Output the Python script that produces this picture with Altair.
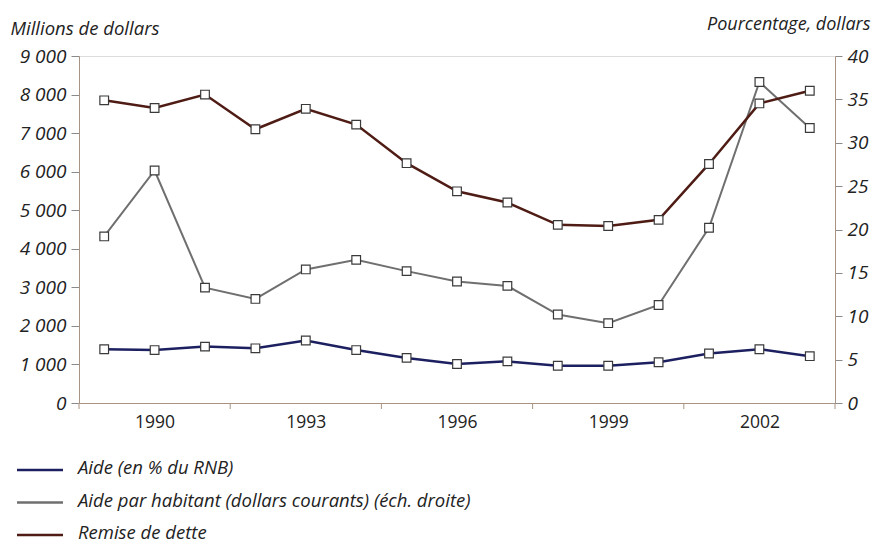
import altair as alt
import pandas as pd

# ---- data ----
years = list(range(1989, 2004))
aide_pct_rnb = [6.2, 6.1, 6.5, 6.3, 7.2, 6.1, 5.2, 4.5, 4.8, 4.3, 4.3, 4.7, 5.7, 6.2, 5.4]
aide_par_habitant = [19.2, 26.8, 13.3, 12.0, 15.4, 16.5, 15.2, 14.0, 13.5, 10.2, 9.2, 11.3, 20.2, 37.0, 31.7]
remise_dette = [7850, 7650, 8000, 7100, 7630, 7220, 6220, 5490, 5200, 4620, 4590, 4750, 6200, 7770, 8100]

series_names = [
    "Aide (en % du RNB)",
    "Aide par habitant (dollars courants) (éch. droite)",
    "Remise de dette",
]
series_colors = ["#1d2060", "#6f6f6f", "#4e1c14"]

x_label_years = [1990, 1993, 1996, 1999, 2002]
tick_bounds = [1988.5, 1991.5, 1994.5, 1997.5, 2000.5, 2003.5]
left_ticks = list(range(0, 9001, 1000))
right_ticks = list(range(0, 41, 5))

df = pd.DataFrame({
    "annee": years,
    "pct": aide_pct_rnb,
    "hab": aide_par_habitant,
    "dette": remise_dette,
})

W, H = 756, 347
FONT = "Open Sans"
AXIS_COL = "#a89484"

xscale = alt.Scale(domain=[1988.5, 2003.5], nice=False, zero=False)
xaxis = alt.Axis(values=x_label_years, format="d", ticks=False, grid=False,
                 domainColor=AXIS_COL, labelFontSize=17.5, labelFont=FONT,
                 labelColor="#222", labelPadding=10, title=None)
xenc = alt.X("annee:Q", scale=xscale, axis=xaxis)

marker = alt.OverlayMarkDef(shape="square", filled=True, fill="white",
                            stroke="#3a3a3a", strokeWidth=1.2, size=75)

right_scale = alt.Scale(domain=[0, 40], nice=False, zero=True)
right_axis = alt.Axis(orient="right", values=right_ticks, grid=False,
                      domainColor=AXIS_COL, tickColor="#8a8a8a", tickSize=7,
                      labelFont=FONT, labelFontSize=19, labelFontStyle="italic",
                      labelColor="#222", labelPadding=5,
                      title="Pourcentage, dollars", titleAngle=0,
                      titleAlign="right", titleBaseline="alphabetic",
                      titleX=35, titleY=-27, titleFont=FONT, titleFontSize=18,
                      titleFontStyle="italic", titleFontWeight="normal",
                      titleColor="#222")

gray = alt.Chart(df).mark_line(color=series_colors[1], strokeWidth=2, point=marker).encode(
    x=xenc,
    y=alt.Y("hab:Q", scale=right_scale, axis=right_axis),
)
blue = alt.Chart(df).mark_line(color=series_colors[0], strokeWidth=2.5, point=marker).encode(
    x=xenc,
    y=alt.Y("pct:Q", scale=right_scale, axis=right_axis),
)
right = alt.layer(gray, blue)

red = alt.Chart(df).mark_line(color=series_colors[2], strokeWidth=2.5, point=marker).encode(
    x=xenc,
    y=alt.Y("dette:Q", scale=alt.Scale(domain=[0, 9000], nice=False),
            axis=alt.Axis(orient="left", values=left_ticks, grid=False,
                          labelExpr="replace(format(datum.value, ','), ',', ' ')",
                          domainColor=AXIS_COL, tickColor="#8a8a8a", tickSize=8,
                          labelFont=FONT, labelFontSize=19, labelFontStyle="italic",
                          labelColor="#222", labelPadding=5,
                          title="Millions de dollars", titleAngle=0,
                          titleAlign="left", titleBaseline="alphabetic",
                          titleX=-69, titleY=-22, titleFont=FONT, titleFontSize=18.5,
                          titleFontStyle="italic", titleFontWeight="normal",
                          titleColor="#222")),
)

ticks = alt.Chart(pd.DataFrame({"annee": tick_bounds})).mark_rule(
    color=AXIS_COL, strokeWidth=1).encode(
    x=xenc,
    y=alt.value(H), y2=alt.value(H + 6),
)

legend_layers = []
for i, (name, col) in enumerate(zip(series_names, series_colors)):
    ly = 414 + i * 32.5
    one = pd.DataFrame({"label": [name]})
    legend_layers.append(
        alt.Chart(one).mark_rule(color=col, strokeWidth=2.5).encode(
            x=alt.value(-62), x2=alt.value(-16), y=alt.value(ly))
    )
    legend_layers.append(
        alt.Chart(one).mark_text(align="left", baseline="middle", font=FONT,
                                 fontSize=18.5, fontStyle="italic", color="#222").encode(
            x=alt.value(-1), y=alt.value(ly - 2), text="label:N")
    )

chart = alt.layer(right, red, ticks, *legend_layers).resolve_scale(
    y="independent"
).properties(
    width=W, height=H,
    autosize=alt.AutoSizeParams(type="none"),
    padding={"left": 71, "top": 48, "right": 38, "bottom": 140},
).configure_view(stroke=AXIS_COL, strokeWidth=1).configure(background="white")

chart.save("out.html", embed_options={"renderer": "svg", "actions": False})
